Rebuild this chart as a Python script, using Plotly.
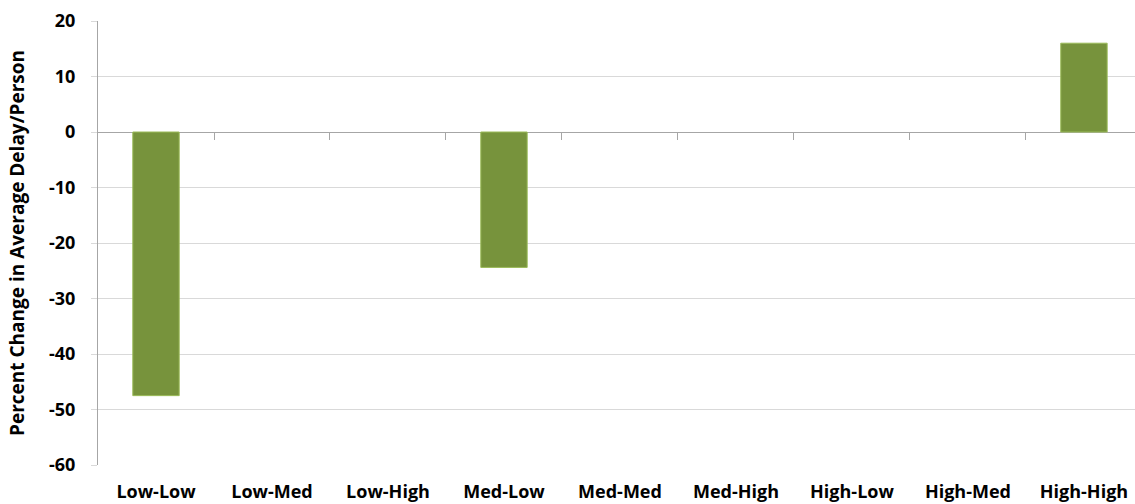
import plotly.graph_objects as go

# Delay change by scenario pair
categories = ["Low-Low", "Low-Med", "Low-High", "Med-Low", "Med-Med",
              "Med-High", "High-Low", "High-Med", "High-High"]
pct_change = [-47.5, 0, 0, -24.4, 0, 0, 0, 0, 16.0]

y_ticks = [20, 10, 0, -10, -20, -30, -40, -50, -60]
y_tick_text = ["20", "10", "0", "-10", "-20", "-30", "-40", "-50", "-60"]

FONT = "Open Sans"

fig = go.Figure()
fig.add_trace(go.Bar(
    x=list(range(len(categories))),
    y=pct_change,
    width=0.4,
    marker=dict(color="#77933C",
                line=dict(color="#9BBB59",
                          width=[1 if v != 0 else 0 for v in pct_change])),
    showlegend=False,
))

# Category axis drawn along the zero line, with tick marks between categories
fig.add_trace(go.Scatter(x=[0], y=[0], xaxis="x2", mode="markers",
                         marker=dict(opacity=0), showlegend=False,
                         hoverinfo="skip"))

fig.update_layout(
    width=1135, height=504,
    margin=dict(l=98, r=0, t=21, b=39),
    plot_bgcolor="white", paper_bgcolor="white",
    font=dict(family=FONT, size=16, color="black"),
    xaxis=dict(
        range=[-0.5, 8.44],
        tickmode="array",
        tickvals=list(range(len(categories))),
        ticktext=categories,
        tickfont=dict(family=FONT, size=18, color="black", weight="bold"),
        showgrid=False, zeroline=False, showline=False,
        ticks="", ticklabelstandoff=14,
    ),
    xaxis2=dict(
        overlaying="x", anchor="free", position=0.75,
        range=[-0.5, 8.44],
        tickmode="array",
        tickvals=[i + 0.5 for i in range(len(categories))],
        showticklabels=False,
        ticks="outside", ticklen=7, tickcolor="#A6A6A6", tickwidth=1,
        showline=True, linecolor="#A6A6A6", linewidth=1,
        showgrid=False, zeroline=False,
        layer="below traces",
    ),
    yaxis=dict(
        range=[-60, 20],
        tickmode="array",
        tickvals=y_ticks,
        ticktext=y_tick_text,
        tickfont=dict(family=FONT, size=18, color="black", weight="bold"),
        showgrid=True, gridcolor="#D9D9D9", gridwidth=1,
        zeroline=False,
        showline=True, linecolor="#A6A6A6", linewidth=1,
        ticks="outside", ticklen=6, tickcolor="#D9D9D9",
        ticklabelstandoff=12,
        title=dict(text="Percent Change in Average Delay/Person",
                   font=dict(family=FONT, size=19, color="black", weight="bold"),
                   standoff=19),
    ),
    bargap=0.6,
)

fig.write_html("out.html")
